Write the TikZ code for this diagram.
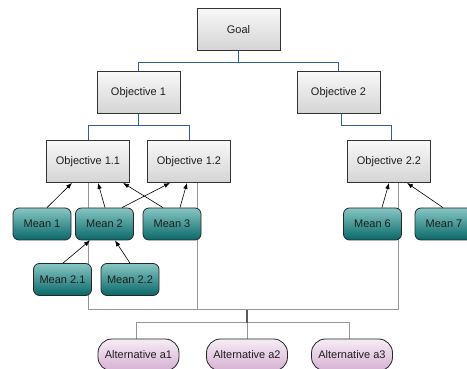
\documentclass[tikz,border=0pt]{standalone}
\usepackage{fontspec}
\setmainfont{Liberation Sans}
\usetikzlibrary{arrows.meta,backgrounds}
\definecolor{txt}{RGB}{30,30,30}
\definecolor{objtop}{RGB}{248,248,248}
\definecolor{objbot}{RGB}{212,212,212}
\definecolor{meantop}{RGB}{135,198,196}
\definecolor{meanbot}{RGB}{8,104,104}
\definecolor{alttop}{RGB}{246,236,244}
\definecolor{altbot}{RGB}{214,176,212}
\definecolor{bluel}{RGB}{45,95,170}
\definecolor{grayl}{RGB}{150,150,150}
\definecolor{grayd}{RGB}{90,90,90}
\tikzset{
  objbox/.style={draw=black!80, line width=0.9pt, top color=objtop, bottom color=objbot,
    minimum width=83pt, minimum height=42pt, inner sep=0pt, font=\fontsize{11}{13}\selectfont, text=txt},
  meanbox/.style={draw=black!85, line width=0.8pt, rounded corners=6pt, top color=meantop, bottom color=meanbot,
    minimum width=58pt, minimum height=32pt, inner sep=0pt, font=\fontsize{11}{13}\selectfont, text=txt},
  altbox/.style={draw=black!85, line width=0.8pt, rounded corners=14pt, top color=alttop, bottom color=altbot,
    minimum width=81pt, minimum height=32pt, inner sep=0pt, font=\fontsize{11}{13}\selectfont, text=txt},
  bluelink/.style={draw=bluel, line width=1pt},
  graylink/.style={draw=grayl, line width=1pt},
  graydark/.style={draw=grayd, line width=1.4pt},
  contrib/.style={draw=black, line width=0.6pt, -{Latex[length=6pt,width=4.5pt]}},
}
\begin{document}
\begin{tikzpicture}[x=1pt,y=-1pt]
\useasboundingbox (0,0) rectangle (467,369);
% nodes
\node[objbox] (goal) at (238.5,29.5) {Goal};
\node[objbox] (o1) at (138.5,92.5) {Objective 1};
\node[objbox] (o2) at (338.5,92.5) {Objective 2};
\node[objbox] (o11) at (88,161.5) {Objective 1.1};
\node[objbox] (o12) at (189,161.5) {Objective 1.2};
\node[objbox] (o22) at (389,161.5) {Objective 2.2};
\node[meanbox] (m1) at (42,224) {Mean 1};
\node[meanbox] (m2) at (104.5,224) {Mean 2};
\node[meanbox] (m3) at (172,224) {Mean 3};
\node[meanbox] (m6) at (372.5,224) {Mean 6};
\node[meanbox] (m7) at (444,224) {Mean 7};
\node[meanbox] (m21) at (62.5,279.5) {Mean 2.1};
\node[meanbox] (m22) at (130,279.5) {Mean 2.2};
\node[altbox] (a1) at (138.5,355) {Alternative a1};
\node[altbox] (a2) at (247,355) {Alternative a2};
\node[altbox] (a3) at (352,355) {Alternative a3};
\coordinate (j) at (247,310);
\coordinate (k) at (247,323);
% background links
\begin{pgfonlayer}{background}
\fill[white] (0,0) rectangle (467,369);
\draw[graylink] (o11.south) |- (j);
\draw[graylink] ([xshift=8pt]o12.south) |- (j);
\draw[graylink] ([xshift=9pt]o22.south) |- (j);
\draw[graylink] (k) -| ([xshift=-2.5pt]a1.north);
\draw[graylink] (k) -| ([xshift=-3pt]a3.north);
\draw[graylink] (k) -- (a2.north);
\draw[graydark] (j) -- (k);
\end{pgfonlayer}
% hierarchy links
\draw[bluelink] (goal.south) -- ++(0,12) -| (o1.north);
\draw[bluelink] (goal.south) -- ++(0,12) -| (o2.north);
\draw[bluelink] (o1.south) -- ++(0,12) -| (o11.north);
\draw[bluelink] (o1.south) -- ++(0,12) -| (o12.north);
\draw[bluelink] ([xshift=2.5pt]o2.south) -- ++(0,12) -| ([xshift=2.5pt]o22.north);
% contributions
\draw[contrib] ([xshift=5pt]m1.north) -- ([xshift=-16pt]o11.south);
\draw[contrib] ([xshift=0.5pt]m2.north) -- ([xshift=10pt]o11.south);
\draw[contrib] ([xshift=17.5pt]m2.north) -- ([xshift=-19pt]o12.south);
\draw[contrib] ([xshift=-9pt]m3.north) -- ([xshift=35pt]o11.south);
\draw[contrib] ([xshift=8pt]m3.north) -- ([xshift=-2pt]o12.south);
\draw[contrib] ([xshift=9.5pt]m6.north) -- (o22.south);
\draw[contrib] ([xshift=-1pt]m7.north) -- ([xshift=18pt]o22.south);
\draw[contrib] ([xshift=0.5pt]m21.north) -- ([xshift=-14.5pt]m2.south);
\draw[contrib] (m22.north) -- ([xshift=10.5pt]m2.south);
\end{tikzpicture}
\end{document}
